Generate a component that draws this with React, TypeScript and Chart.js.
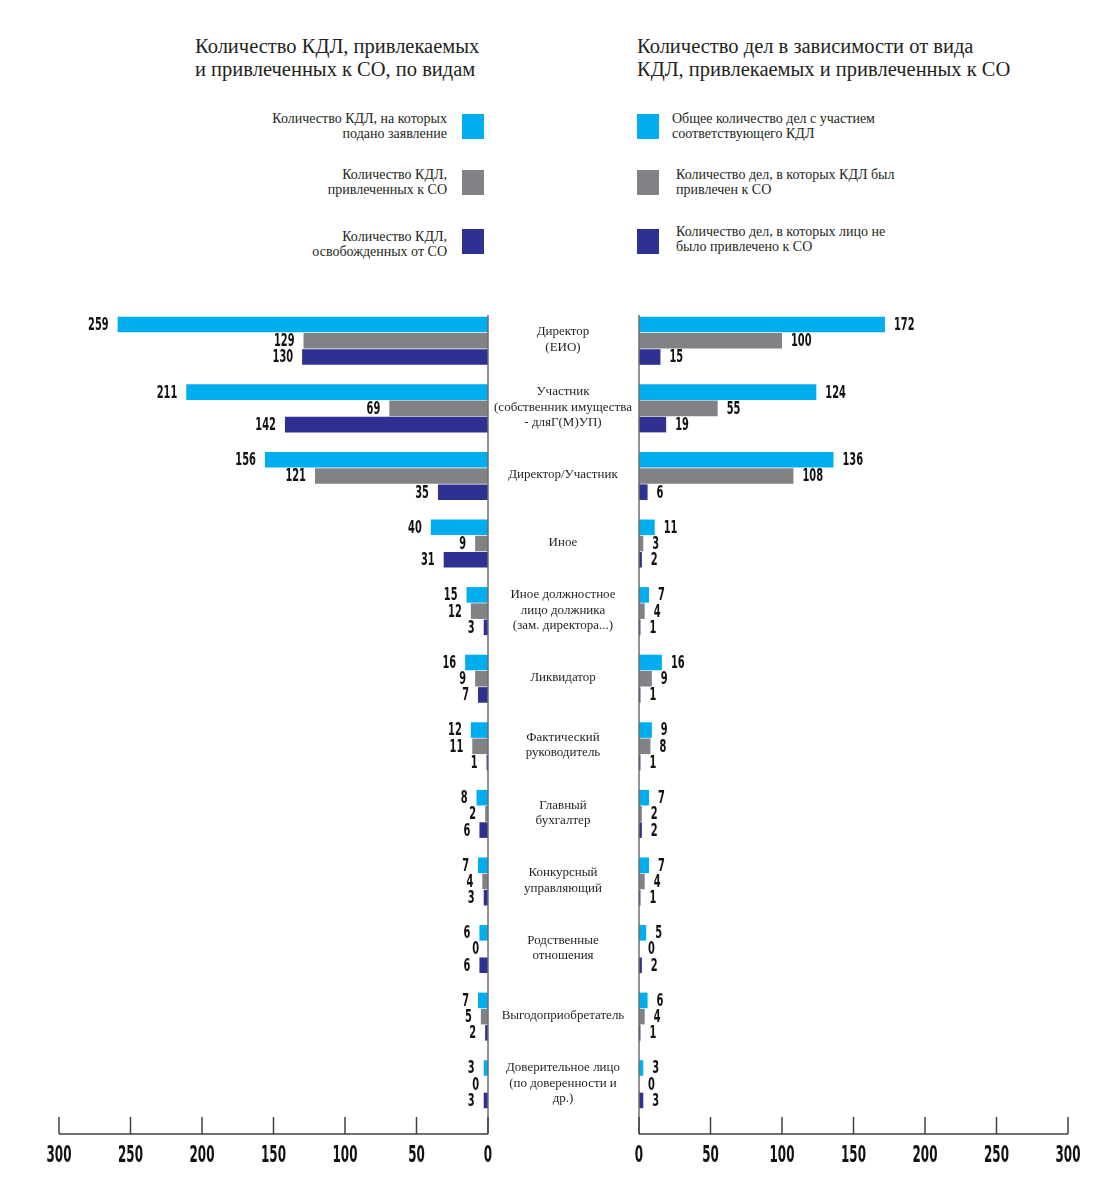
import React, { useEffect, useRef } from "react";
import { Chart, registerables } from "chart.js";

Chart.register(...registerables);

// ---------- DATA ----------
const categories: string[][] = [
  ["Директор", "(ЕИО)"],
  ["Участник", "(собственник имущества", "- дляГ(М)УП)"],
  ["Директор/Участник"],
  ["Иное"],
  ["Иное должностное", "лицо должника", "(зам. директора...)"],
  ["Ликвидатор"],
  ["Фактический", "руководитель"],
  ["Главный", "бухгалтер"],
  ["Конкурсный", "управляющий"],
  ["Родственные", "отношения"],
  ["Выгодоприобретатель"],
  ["Доверительное лицо", "(по доверенности и", "др.)"],
];

const leftFiled = [259, 211, 156, 40, 15, 16, 12, 8, 7, 6, 7, 3];
const leftInvolved = [129, 69, 121, 9, 12, 9, 11, 2, 4, 0, 5, 0];
const leftReleased = [130, 142, 35, 31, 3, 7, 1, 6, 3, 6, 2, 3];

const rightTotal = [172, 124, 136, 11, 7, 16, 9, 7, 7, 5, 6, 3];
const rightInvolved = [100, 55, 108, 3, 4, 9, 8, 2, 4, 0, 4, 0];
const rightNotInvolved = [15, 19, 6, 2, 1, 1, 1, 2, 1, 2, 1, 3];

const axisMin = 0;
const axisMax = 300;
const axisStep = 50;

const leftTitle = ["Количество КДЛ, привлекаемых", "и привлеченных к СО, по видам"];
const rightTitle = ["Количество дел в зависимости от вида", "КДЛ, привлекаемых и привлеченных к СО"];

const leftLegend: string[][] = [
  ["Количество КДЛ, на которых", "подано заявление"],
  ["Количество КДЛ,", "привлеченных к СО"],
  ["Количество КДЛ,", "освобожденных от СО"],
];
const rightLegend: string[][] = [
  ["Общее количество дел с участием", "соответствующего КДЛ"],
  ["Количество дел, в которых КДЛ был", "привлечен к СО"],
  ["Количество дел, в которых лицо не", "было привлечено к СО"],
];

const seriesColors = ["#00AEEF", "#808285", "#2E3192"];

// ---------- STYLE ----------
const SERIF = "'Liberation Serif', 'DejaVu Serif', serif";
const NUMFONT = "'DejaVu Sans', 'Liberation Sans', sans-serif";
const TEXT = "#231f20";

const CHART_TOP = 307;
const X_AXIS_H = 82;

// draws condensed bold numbers (horizontally squeezed real text)
function drawNumber(ctx: any, text: string, x: number, y: number, size: number, squeeze: number, align: string) {
  ctx.save();
  ctx.font = `bold ${size}px ${NUMFONT}`;
  ctx.textBaseline = "middle";
  ctx.textAlign = align;
  ctx.translate(x, y);
  ctx.scale(squeeze, 1);
  ctx.fillText(text, 0, 0);
  ctx.restore();
}

function valueLabelPlugin(side: "left" | "right") {
  return {
    id: "valueLabels" + side,
    afterDatasetsDraw(chart: any) {
      const ctx = chart.ctx;
      ctx.save();
      ctx.fillStyle = "#111";
      chart.data.datasets.forEach((ds: any, di: number) => {
        const meta = chart.getDatasetMeta(di);
        meta.data.forEach((el: any, i: number) => {
          const v = ds.data[i];
          if (side === "left") {
            drawNumber(ctx, String(v), el.x - 9, el.y + 1, 17, 0.58, "right");
          } else {
            drawNumber(ctx, String(v), el.x + 9, el.y + 1, 17, 0.58, "left");
          }
        });
      });
      ctx.restore();
    },
  };
}

const axisDecorPlugin = {
  id: "axisDecor",
  afterDraw(chart: any) {
    const { ctx, chartArea } = chart;
    const x = chart.scales.x;
    const axisY = chartArea.bottom + 16;
    ctx.save();
    // zero line
    const zx = x.getPixelForValue(0);
    ctx.strokeStyle = "#6d6e71";
    ctx.lineWidth = 1.5;
    ctx.beginPath();
    ctx.moveTo(zx, chartArea.top + 8);
    ctx.lineTo(zx, axisY);
    ctx.stroke();
    // bottom axis line
    ctx.strokeStyle = "#414042";
    ctx.beginPath();
    ctx.moveTo(x.getPixelForValue(x.min), axisY);
    ctx.lineTo(x.getPixelForValue(x.max), axisY);
    ctx.stroke();
    ctx.fillStyle = "#111";
    x.ticks.forEach((t: any) => {
      const px = x.getPixelForValue(t.value);
      ctx.beginPath();
      ctx.moveTo(px, chartArea.bottom - 1);
      ctx.lineTo(px, axisY);
      ctx.stroke();
      drawNumber(ctx, String(t.value), px, axisY + 22, 23, 0.52, "center");
    });
    ctx.restore();
  },
};

const middleLabelsPlugin = {
  id: "middleLabels",
  afterDraw(chart: any) {
    const { ctx, chartArea } = chart;
    const y = chart.scales.y;
    const cx = chartArea.left - 76;
    const lh = 15.5;
    ctx.save();
    ctx.font = `13px ${SERIF}`;
    ctx.fillStyle = TEXT;
    ctx.textAlign = "center";
    ctx.textBaseline = "middle";
    categories.forEach((lines, i) => {
      const cy = y.getPixelForValue(i) - 1;
      lines.forEach((ln, k) => {
        ctx.fillText(ln, cx, cy - ((lines.length - 1) * lh) / 2 + k * lh);
      });
    });
    ctx.restore();
  },
};

function makeConfig(side: "left" | "right", series: number[][]) {
  return {
    type: "bar" as const,
    data: {
      labels: categories.map((c) => c.join(" ")),
      datasets: series.map((d, i) => ({
        data: d,
        backgroundColor: seriesColors[i],
        borderWidth: 0,
        categoryPercentage: 0.72,
        barPercentage: 0.96,
      })),
    },
    options: {
      indexAxis: "y" as const,
      animation: false as const,
      responsive: false,
      maintainAspectRatio: false,
      layout: {
        padding:
          side === "left"
            ? { top: CHART_TOP, bottom: 0, left: 59, right: 12 }
            : { top: CHART_TOP, bottom: 0, left: 159, right: 51 },
      },
      scales: {
        x: {
          min: axisMin,
          max: axisMax,
          reverse: side === "left",
          ticks: { stepSize: axisStep, display: false },
          grid: { display: false, drawTicks: false },
          border: { display: false },
          afterFit(scale: any) {
            scale.height = X_AXIS_H;
          },
        },
        y: { display: false },
      },
      plugins: {
        legend: { display: false },
        tooltip: { enabled: false },
      },
    },
    plugins:
      side === "left"
        ? [valueLabelPlugin("left"), axisDecorPlugin]
        : [valueLabelPlugin("right"), axisDecorPlugin, middleLabelsPlugin],
  };
}

function BarCanvas(props: { side: "left" | "right"; series: number[][]; left: number; width: number }) {
  const ref = useRef<HTMLCanvasElement | null>(null);
  useEffect(() => {
    if (!ref.current) return;
    const chart = new Chart(ref.current, makeConfig(props.side, props.series) as any);
    return () => chart.destroy();
  }, []);
  return (
    <canvas
      ref={ref}
      width={props.width}
      height={1200}
      style={{ position: "absolute", left: props.left, top: 0, width: props.width, height: 1200 }}
    />
  );
}

const sq = (color: string, left: number, top: number) => (
  <div style={{ position: "absolute", left, top, width: 22, height: 25, background: color }} />
);

export default function App() {
  const leftSquareTops = [114, 170, 229];
  const leftTextTops = [111, 167, 229];
  const rightSquareTops = [114, 170, 229];
  const rightTextTops = [111, 167, 224];
  const rightTextLefts = [672, 676, 676];
  return (
    <div
      style={{
        position: "absolute",
        left: 0,
        top: 0,
        width: 1119,
        height: 1200,
        background: "#fff",
        fontFamily: SERIF,
        color: TEXT,
      }}
    >
      <div style={{ position: "absolute", left: 195, top: 35, fontSize: 20.5, lineHeight: "23px", whiteSpace: "nowrap" }}>
        {leftTitle.map((t, i) => (
          <div key={i}>{t}</div>
        ))}
      </div>
      <div style={{ position: "absolute", left: 637, top: 35, fontSize: 20.5, lineHeight: "23px", whiteSpace: "nowrap" }}>
        {rightTitle.map((t, i) => (
          <div key={i}>{t}</div>
        ))}
      </div>
      {leftLegend.map((lines, i) => (
        <React.Fragment key={"l" + i}>
          <div
            style={{
              position: "absolute",
              right: 1119 - 447,
              top: leftTextTops[i],
              fontSize: 14,
              lineHeight: "15px",
              textAlign: "right",
              whiteSpace: "nowrap",
            }}
          >
            {lines.map((t, k) => (
              <div key={k}>{t}</div>
            ))}
          </div>
          {sq(seriesColors[i], 462, leftSquareTops[i])}
        </React.Fragment>
      ))}
      {rightLegend.map((lines, i) => (
        <React.Fragment key={"r" + i}>
          {sq(seriesColors[i], 637, rightSquareTops[i])}
          <div
            style={{
              position: "absolute",
              left: rightTextLefts[i],
              top: rightTextTops[i],
              fontSize: 14,
              lineHeight: "15px",
              whiteSpace: "nowrap",
            }}
          >
            {lines.map((t, k) => (
              <div key={k}>{t}</div>
            ))}
          </div>
        </React.Fragment>
      ))}
      <BarCanvas side="left" series={[leftFiled, leftInvolved, leftReleased]} left={0} width={500} />
      <BarCanvas side="right" series={[rightTotal, rightInvolved, rightNotInvolved]} left={480} width={639} />
    </div>
  );
}
